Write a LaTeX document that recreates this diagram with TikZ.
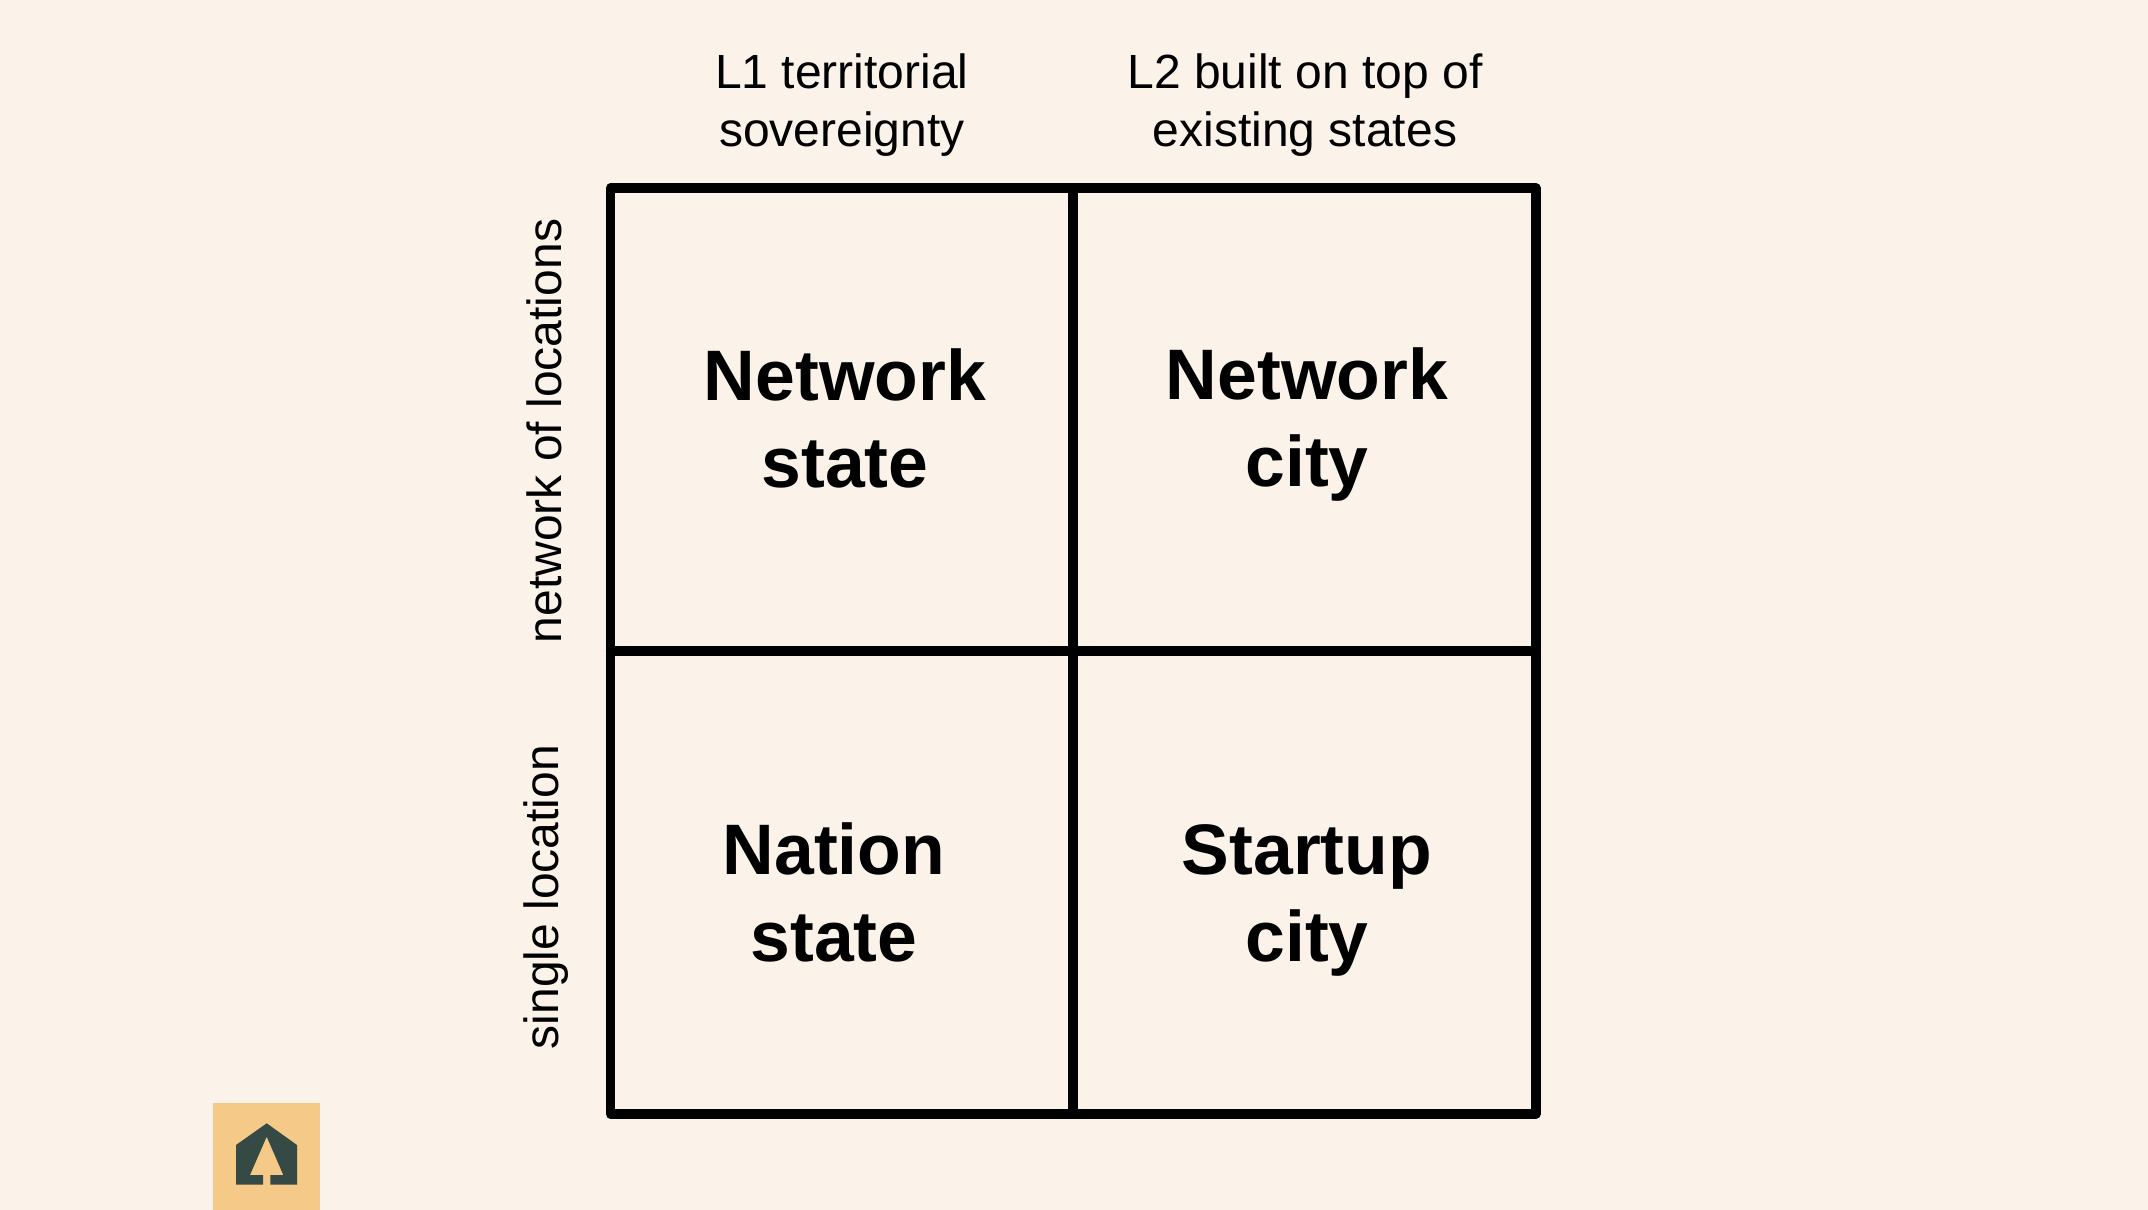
\documentclass[tikz,border=0pt]{standalone}
\usepackage{fontspec}
\setmainfont{Liberation Sans}
\definecolor{paper}{HTML}{FBF3E9}
\definecolor{badge}{HTML}{F5C987}
\definecolor{pine}{HTML}{364A45}
\tikzset{
  axis/.style={align=center,font=\fontsize{48}{58.5}\selectfont,inner sep=0pt},
  cell/.style={align=center,font=\fontsize{71.5}{87}\selectfont\bfseries,inner sep=0pt},
  grid/.style={line width=9.3pt,line join=round,line cap=round}
}
\begin{document}
\begin{tikzpicture}[x=1pt,y=-1pt]
\fill[paper] (0,0) rectangle (2148,1210);
\useasboundingbox (0,0) rectangle (2148,1210);
\node[axis] (l1) at (842,105) {L1 territorial\\sovereignty};
\node[axis] (l2) at (1305,105) {L2 built on top of\\existing states};
\node[axis,rotate=90] (net) at (544,431) {network of locations};
\node[axis,rotate=90] (sing) at (546,897) {single location};
\node[cell] (ns) at (845,418) {Network\\state};
\node[cell] (nc) at (1307,425) {Network\\city};
\node[cell] (nat) at (834,892) {Nation\\state};
\node[cell] (sc) at (1307,900) {Startup\\city};
\draw[grid] (610.5,188) rectangle (1536,1114);
\draw[grid] (1073,188) -- (1073,1114);
\draw[grid] (610.5,651) -- (1536,651);
\fill[badge] (213,1103) rectangle (320,1210);
\fill[pine,even odd rule] (266.7,1123.3) -- (297,1145) -- (297,1184.7) -- (270.3,1184.7) -- (270.3,1175) -- (283.3,1175) -- (266.7,1136.7) -- (250,1175) -- (263,1175) -- (263,1184.7) -- (236,1184.7) -- (236,1145) -- cycle;
\end{tikzpicture}
\end{document}
